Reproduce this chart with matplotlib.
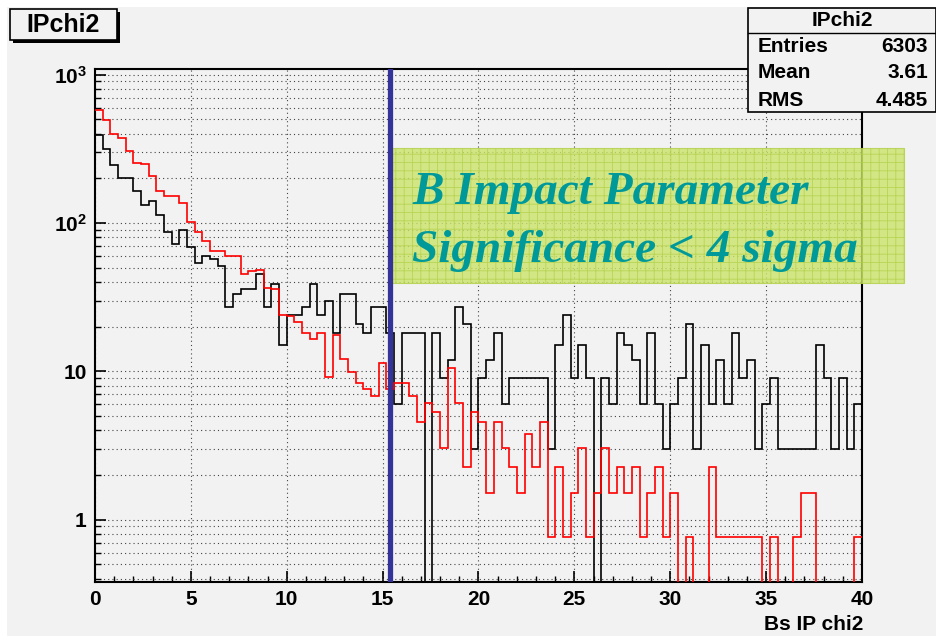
import numpy as np
import matplotlib
matplotlib.use("Agg")
import matplotlib.pyplot as plt
from matplotlib.patches import Rectangle
from matplotlib.ticker import FixedLocator, MultipleLocator, LogLocator, NullFormatter

plt.rcParams['font.family'] = ['Liberation Sans', 'DejaVu Sans']
plt.rcParams['mathtext.fontset'] = 'custom'
plt.rcParams['mathtext.bf'] = 'Liberation Sans:bold'
plt.rcParams['mathtext.rm'] = 'Liberation Sans:bold'
plt.rcParams['hatch.linewidth'] = 0.6

# --- histogram binning (100 bins, 0..40) ---
x_min, x_max, n_bins = 0.0, 40.0, 100
edges = np.linspace(x_min, x_max, n_bins + 1)

# black histogram (background)
black = [390, 315, 246, 201, 201, 165, 132, 141, 114, 87,
         72, 90, 69, 54, 60, 57, 51, 27, 33, 36,
         36, 45, 27, 39, 15, 24, 24, 27, 39, 24,
         30, 18, 33, 33, 21, 18, 27, 27, 18, 6,
         18, 18, 18, 0, 18, 9, 12, 27, 21, 3,
         9, 12, 18, 6, 9, 9, 9, 9, 9, 3,
         15, 24, 9, 15, 9, 0, 9, 6, 18, 15,
         12, 6, 18, 6, 3, 6, 9, 21, 3, 15,
         6, 12, 6, 18, 9, 12, 3, 6, 9, 3,
         3, 3, 3, 3, 15, 9, 3, 9, 3, 6]

# red histogram (signal, scaled)
red = [576, 494, 395, 372, 306, 255, 249, 208, 165, 153,
       153, 136, 101, 87.5, 76, 64.5, 64.5, 60, 60, 45,
       47.3, 48, 36.4, 35.7, 24.1, 23.6, 21.6, 18.2, 16.5, 18.1,
       9.1, 17.5, 12.2, 9.9, 8.4, 7.6, 6.84, 11.4, 7.6, 8.36,
       8.36, 6.84, 4.56, 6.08, 5.32, 3.04, 10.6, 6.08, 2.28, 5.32,
       4.56, 1.52, 4.56, 3.04, 2.28, 1.52, 3.8, 2.28, 4.56, 0.76,
       2.28, 0.76, 1.52, 3.04, 0.76, 1.52, 3.04, 1.52, 2.28, 1.52,
       2.28, 0.76, 1.52, 2.28, 0.76, 1.52, 0, 0.76, 0, 0,
       2.28, 0.76, 0.76, 0.76, 0.76, 0.76, 0.76, 0, 0.76, 0,
       0, 0.76, 1.52, 1.52, 0, 0, 0, 0, 0, 0.76]

cut_value = 15.4
y_ticks = [1, 10, 100, 1000]
y_ticklabels = ['1', '10', r'$\mathbf{10^{2}}$', r'$\mathbf{10^{3}}$']
stats_rows = [("Entries", "6303"), ("Mean", "3.61"), ("RMS", "4.485")]
hist_name = "IPchi2"
xlabel = "Bs IP chi2"
note_lines = ["B Impact Parameter", "Significance < 4 sigma"]

W, H = 937, 636
bg = '#f2f2f2'
fig = plt.figure(figsize=(W / 100, H / 100), dpi=100)
fig.patch.set_facecolor('white')
fig.patches.append(Rectangle((7 / W, 0), 1, 1 - 7 / H, transform=fig.transFigure,
                             facecolor=bg, edgecolor='none', zorder=-10))

def fx(px):
    return px / W

def fy(py):
    return 1 - py / H

ax = fig.add_axes([fx(95), fy(582), fx(862) - fx(95), fy(68.5) - fy(582)])
ax.set_facecolor(bg)
ax.set_yscale('log')
ax.set_xlim(x_min, x_max)
ax.set_ylim(0.38, 1100)

floor = 1e-3
ax.stairs(np.where(np.array(black) > 0, black, floor), edges, baseline=None,
          color='black', lw=1.2, zorder=3)
ax.stairs(np.where(np.array(red) > 0, red, floor), edges, baseline=None,
          color='#ff0000', lw=1.2, zorder=3)
ax.axvline(cut_value, color='#333399', lw=3.8, zorder=5)

# grid
ax.xaxis.set_major_locator(MultipleLocator(5))
ax.xaxis.set_minor_locator(MultipleLocator(1))
ax.yaxis.set_major_locator(FixedLocator(y_ticks))
ax.yaxis.set_minor_locator(LogLocator(base=10, subs=np.arange(2, 10)))
ax.yaxis.set_minor_formatter(NullFormatter())
ax.set_yticklabels(y_ticklabels)
ax.set_xticks(np.arange(0, 41, 5))
ax.set_xticklabels([str(v) for v in range(0, 41, 5)])
gs = dict(color='#444444', lw=0.8, linestyle=(0, (1, 2.8)))
ax.grid(True, axis='x', which='major', **gs)
ax.grid(True, axis='y', which='both', **gs)
ax.set_axisbelow(True)

ax.tick_params(which='major', direction='in', length=8, width=1.2, top=False, right=False,
               labelsize=15, pad=6)
ax.tick_params(which='minor', direction='in', length=4.5, width=1.0, top=False, right=False)
for lab in ax.get_xticklabels() + ax.get_yticklabels():
    lab.set_fontweight('bold')
for sp in ax.spines.values():
    sp.set_linewidth(1.5)

fig.text(fx(863), fy(625), xlabel, ha='right', va='center', fontsize=15, fontweight='bold')

# green annotation box
ax.add_patch(Rectangle((fx(391), fy(283)), fx(904) - fx(391), fy(148) - fy(283),
                       transform=fig.transFigure, clip_on=False, facecolor='#cce46a',
                       alpha=0.8, edgecolor='#b0d048', hatch='++', lw=0.8, zorder=4))
for txt, base in zip(note_lines, [204, 262]):
    fig.text(fx(412), fy(base), txt, ha='left', va='baseline', fontsize=34,
             family='Liberation Serif', style='italic', fontweight='bold', color='#009999',
             zorder=6)

# title box (top left)
fig.patches.append(Rectangle((fx(13), fy(43)), fx(120) - fx(13), fy(12) - fy(43),
                             transform=fig.transFigure, facecolor='black', edgecolor='none', zorder=1))
fig.patches.append(Rectangle((fx(10), fy(40)), fx(117) - fx(10), fy(9) - fy(40),
                             transform=fig.transFigure, facecolor=bg, edgecolor='black', lw=1.2, zorder=2))
fig.text(fx(63.5), fy(25), hist_name, ha='center', va='center', fontsize=18, fontweight='bold', zorder=3)

# stats box (top right)
fig.patches.append(Rectangle((fx(748), fy(112)), fx(936) - fx(748), fy(8) - fy(112),
                             transform=fig.transFigure, facecolor=bg, edgecolor='black', lw=1.2, zorder=2))
fig.lines.append(plt.Line2D([fx(748), fx(936)], [fy(33), fy(33)], transform=fig.transFigure,
                            color='black', lw=1.0, zorder=3))
fig.text(fx(842), fy(20), hist_name, ha='center', va='center', fontsize=15, fontweight='bold', zorder=3)
for i, (k, v) in enumerate(stats_rows):
    yy = fy(46 + 27 * i)
    fig.text(fx(758), yy, k, ha='left', va='center', fontsize=15, fontweight='bold', zorder=3)
    fig.text(fx(928), yy, v, ha='right', va='center', fontsize=15, fontweight='bold', zorder=3)

fig.savefig("out.png", dpi=100, facecolor=fig.get_facecolor())
